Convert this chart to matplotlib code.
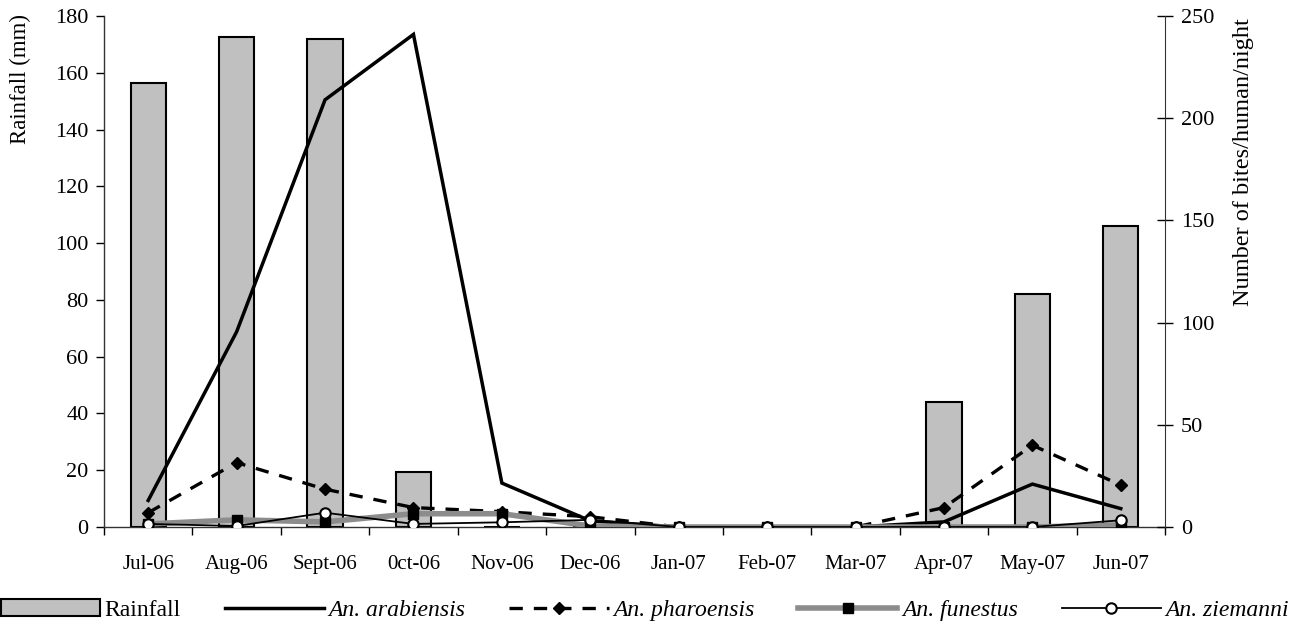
import matplotlib
matplotlib.use("Agg")
import matplotlib.pyplot as plt
import numpy as np
from matplotlib.ticker import FixedLocator, NullFormatter

plt.rcParams['font.family'] = ['Liberation Serif', 'DejaVu Serif']

months = ["Jul-06", "Aug-06", "Sept-06", "0ct-06", "Nov-06", "Dec-06",
          "Jan-07", "Feb-07", "Mar-07", "Apr-07", "May-07", "Jun-07"]
rainfall = [156.5, 172.5, 172, 19.5, 0, 0, 0, 0, 0, 44, 82, 106]
arabiensis = [13, 95.5, 209, 241, 21.5, 3, 0, 0, 0, 2.5, 21, 9]
pharoensis = [7, 31.5, 18.5, 9.5, 7.5, 5, 0, 0, 0, 9.5, 40, 20.5]
funestus = [1.5, 3.5, 2.5, 6.5, 6.5, 0.5, 0, 0, 0, 0, 0, 1]
ziemanni = [1.5, 0.5, 7, 1.5, 2.3, 3.5, 0, 0, 0, 0, 0, 3.3]

W, H = 1298, 641
fig = plt.figure(figsize=(W / 100, H / 100), dpi=100)
ax = fig.add_axes([104 / W, 1 - 527 / H, (1165 - 104) / W, (527 - 16) / H])
x = np.arange(len(months))

bars = ax.bar(x, rainfall, width=0.4, color='#c0c0c0', edgecolor='black',
              linewidth=1.5, label='Rainfall', zorder=2)
ax.set_ylim(0, 180)
ax.set_xlim(-0.5, len(months) - 0.5)
ax.set_yticks(np.arange(0, 181, 20))
ax.tick_params(axis='y', direction='out', length=6, width=1, labelsize=16, pad=5)
ax.xaxis.set_major_locator(FixedLocator(np.arange(-0.5, len(months), 1.0)))
ax.xaxis.set_major_formatter(NullFormatter())
ax.xaxis.set_minor_locator(FixedLocator(x))
ax.set_xticklabels(months, minor=True)
ax.tick_params(axis='x', which='major', direction='out', length=6, width=1)
ax.tick_params(axis='x', which='minor', length=0, labelsize=15, pad=20)
ax.spines['top'].set_visible(False)
ax.spines['right'].set_visible(False)
for s in ['left', 'bottom']:
    ax.spines[s].set_linewidth(1)
    ax.spines[s].set_color('#333333')

ax2 = ax.twinx()
ax2.set_ylim(0, 250)
ax2.set_yticks(np.arange(0, 251, 50))
ax2.tick_params(axis='y', direction='inout', length=11, width=1, labelsize=16, pad=6)
ax2.spines['top'].set_visible(False)
ax2.spines['left'].set_visible(False)
ax2.spines['bottom'].set_visible(False)
ax2.spines['right'].set_color('#333333')

l1, = ax2.plot(x, arabiensis, color='black', lw=2.5, label='An. arabiensis',
               solid_joinstyle='miter')
l2, = ax2.plot(x, pharoensis, color='black', lw=2.4, linestyle=(0, (4, 3.3)),
               marker='D', ms=6.5, mfc='black', mec='black', label='An. pharoensis')
l3, = ax2.plot(x, funestus, color='#8c8c8c', lw=4, marker='s', ms=7,
               mfc='black', mec='black', label='An. funestus')
l4, = ax2.plot(x, ziemanni, color='black', lw=1.3, marker='o', ms=7.5,
               mfc='white', mec='black', mew=1.5, label='An. ziemanni')

fig.text(20 / W, 1 - 14 / H, 'Rainfall (mm)', rotation=90, ha='center', va='top',
         fontsize=16.5)
fig.text(1243 / W, 1 - 18 / H, 'Number of bites/human/night', rotation=90,
         ha='center', va='top', fontsize=17.5)

leg = fig.legend([bars, l1, l2, l3, l4],
                 ['Rainfall', 'An. arabiensis', 'An. pharoensis', 'An. funestus', 'An. ziemanni'],
                 loc='center', bbox_to_anchor=(0.497, 1 - 610 / H), ncol=5,
                 frameon=False, fontsize=17, handlelength=4.2, handletextpad=0.2,
                 columnspacing=1.85, borderaxespad=0)
for t in leg.get_texts()[1:]:
    t.set_fontstyle('italic')

fig.savefig('out.png', dpi=100)
